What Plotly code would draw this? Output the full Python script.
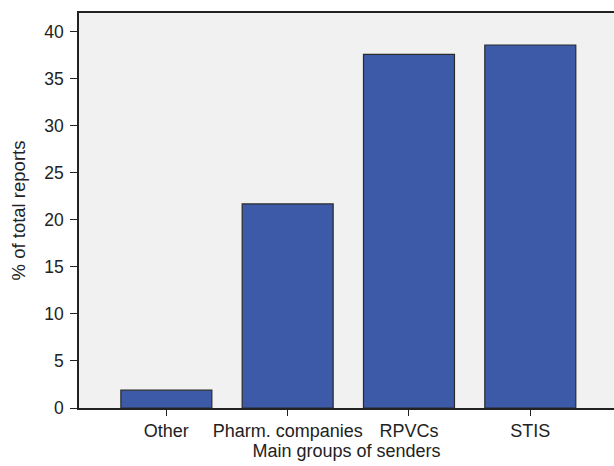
import plotly.graph_objects as go

categories = ["Other", "Pharm. companies", "RPVCs", "STIS"]
values = [1.9, 21.7, 37.6, 38.6]
y_ticks = [0, 5, 10, 15, 20, 25, 30, 35, 40]

fig = go.Figure(go.Bar(
    x=categories, y=values,
    marker=dict(color="#3d5aa8", line=dict(color="#2a2a2a", width=1.2)),
    width=0.75,
))

font = dict(family="Liberation Sans, Arial, sans-serif", color="#222222")
fig.update_layout(
    width=614, height=466,
    margin=dict(l=79, r=0, t=13, b=58),
    paper_bgcolor="white", plot_bgcolor="#f0f1f0",
    showlegend=False,
    font=dict(size=18, **font),
    xaxis=dict(
        range=[-0.72, 3.69], showline=True, linecolor="#222222", linewidth=1.5,
        mirror=True, ticks="outside", ticklen=6, tickcolor="#222222",
        tickfont=dict(size=18), showgrid=False,
        title=dict(text="Main groups of senders", font=dict(size=18), standoff=1),
        automargin=False,
    ),
    yaxis=dict(
        range=[0, 42], tickvals=y_ticks, showline=True, linecolor="#222222", linewidth=1.5,
        ticks="outside", ticklen=7, tickcolor="#222222", tickfont=dict(size=17.5),
        ticklabelstandoff=3,
        showgrid=False, zeroline=False,
        title=dict(text="% of total reports", font=dict(size=18.5), standoff=14),
        automargin=False,
    ),
)

fig.write_html("out.html", config={"displayModeBar": False},
               post_script="document.body.style.margin='0';")
